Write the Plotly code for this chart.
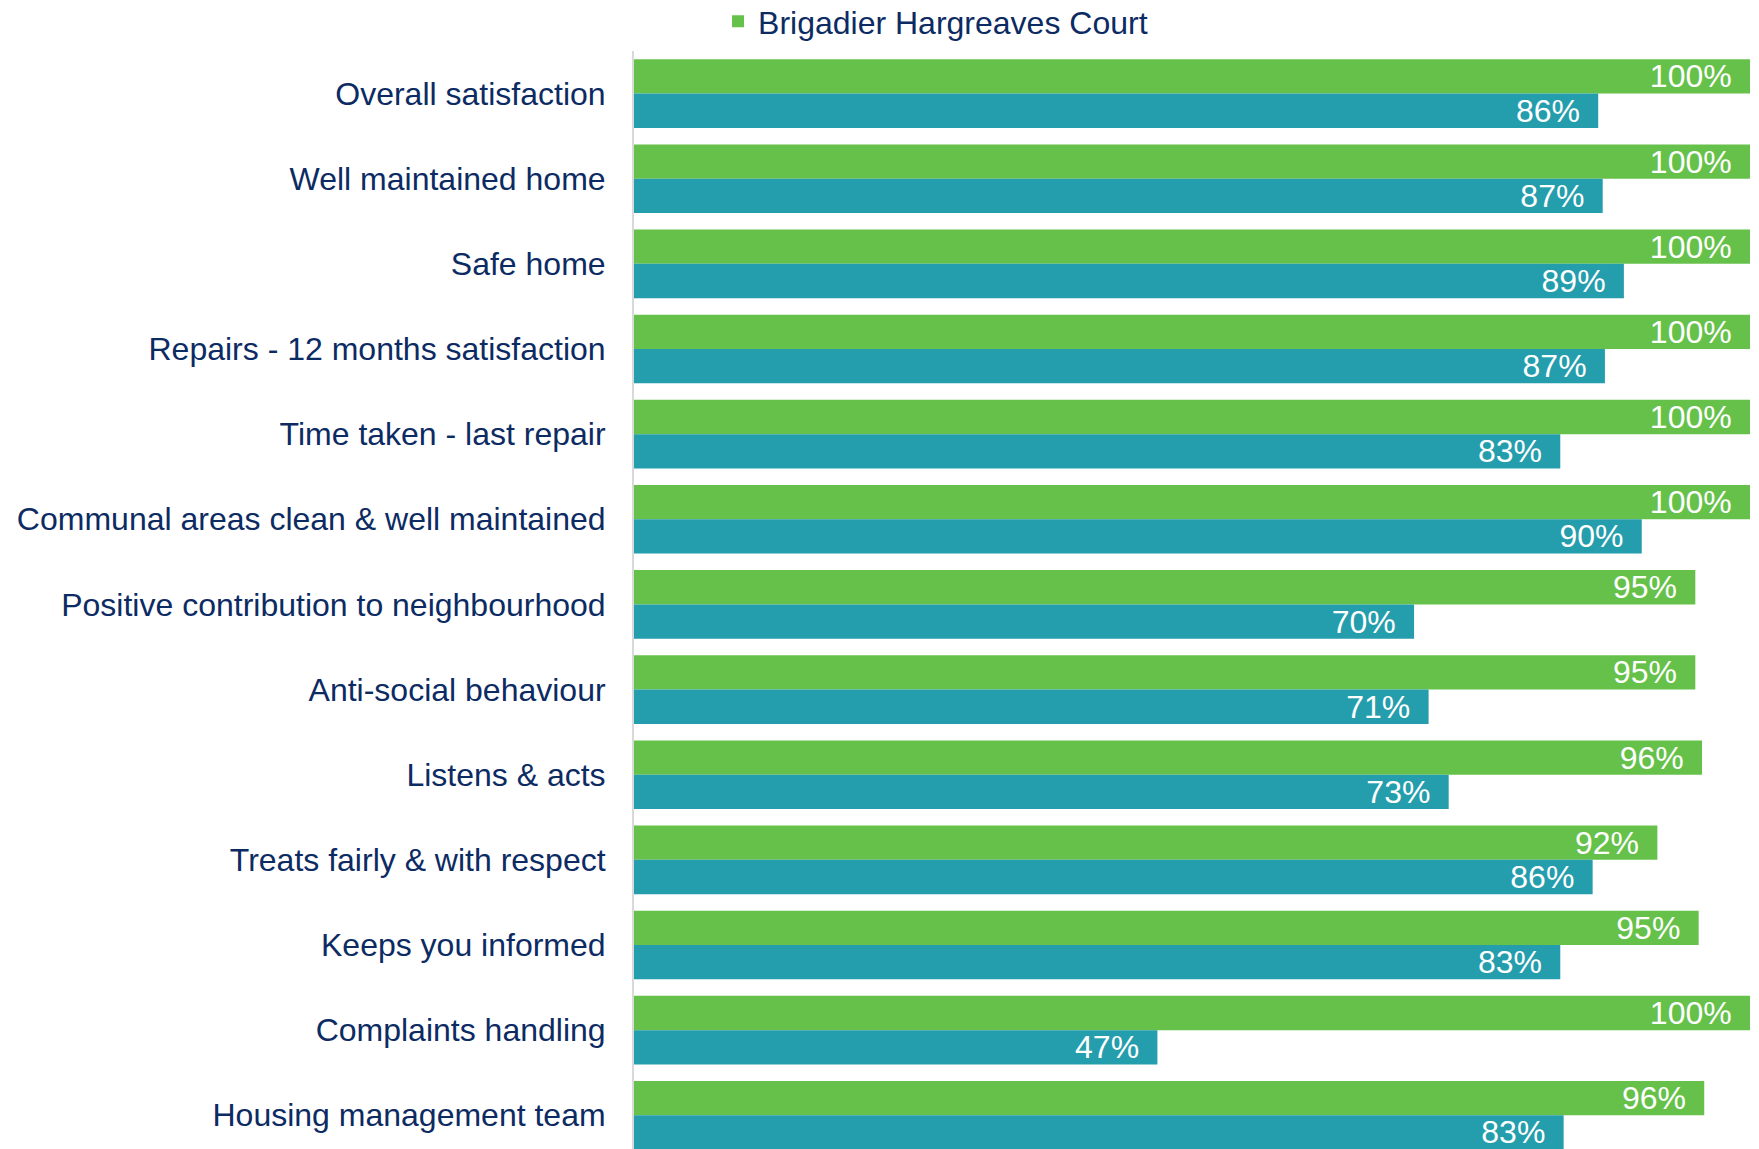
import plotly.graph_objects as go

categories = [
    "Overall satisfaction",
    "Well maintained home",
    "Safe home",
    "Repairs - 12 months satisfaction",
    "Time taken - last repair",
    "Communal areas clean & well maintained",
    "Positive contribution to neighbourhood",
    "Anti-social behaviour",
    "Listens & acts",
    "Treats fairly & with respect",
    "Keeps you informed",
    "Complaints handling",
    "Housing management team",
]

court_values = [100, 100, 100, 100, 100, 100, 95.1, 95.1, 95.7, 91.7, 95.4, 100, 95.9]
comparison_values = [86.4, 86.8, 88.7, 87.0, 83.0, 90.3, 69.9, 71.2, 73.0, 85.9, 83.0, 46.9, 83.3]

court_name = "Brigadier Hargreaves Court"
comparison_name = "Comparison"

GREEN = "#66C14A"
TEAL = "#249DAC"
NAVY = "#0D2B63"
FONT = "Arial, Liberation Sans, sans-serif"
LABEL_TEMPLATE = "%{x:.0f}%\u00a0\u2009"

fig = go.Figure()
fig.add_trace(go.Bar(
    y=categories, x=court_values, name=court_name, orientation="h",
    marker=dict(color=GREEN, line=dict(width=0)),
    texttemplate=LABEL_TEMPLATE, textposition="inside",
    insidetextanchor="end", constraintext="none",
    textfont=dict(color="white", size=32, family=FONT),
))
fig.add_trace(go.Bar(
    y=categories, x=comparison_values, name=comparison_name, orientation="h",
    marker=dict(color=TEAL, line=dict(width=0)), showlegend=False,
    texttemplate=LABEL_TEMPLATE, textposition="inside",
    insidetextanchor="end", constraintext="none",
    textfont=dict(color="white", size=32, family=FONT),
))

fig.update_layout(
    width=1759, height=1149,
    margin=dict(l=634, r=9, t=51, b=0, autoexpand=False),
    paper_bgcolor="white", plot_bgcolor="white",
    barmode="group", bargap=0.194, bargroupgap=0,
    font=dict(family=FONT, color=NAVY, size=32),
    legend=dict(
        orientation="h", x=0.0753, xanchor="left", y=1.027, yanchor="middle",
        font=dict(size=32, color=NAVY, family=FONT),
        bgcolor="rgba(0,0,0,0)",
    ),
    xaxis=dict(range=[0, 100], showgrid=False, zeroline=False,
               showticklabels=False, showline=False, fixedrange=True),
    yaxis=dict(range=[12.396, -0.5], showgrid=False, zeroline=False,
               showline=True, linecolor="#D9D9D9", linewidth=2,
               ticks="", ticklabelstandoff=20,
               tickfont=dict(size=32, color=NAVY, family=FONT)),
)

fig.write_html(
    "out.html",
    config={"displayModeBar": False},
    post_script="document.body.style.margin='0';document.body.style.overflow='hidden';",
)
